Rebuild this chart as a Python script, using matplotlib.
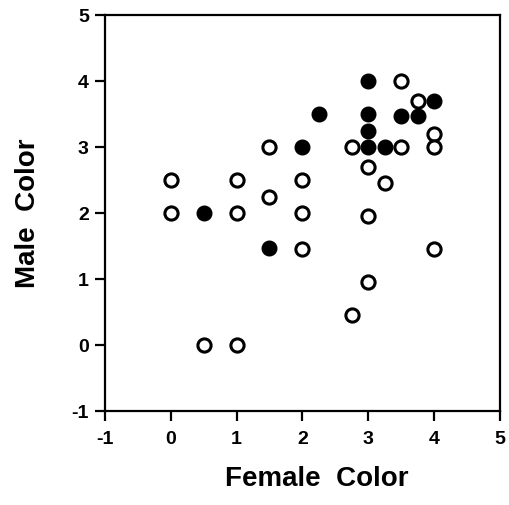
import matplotlib
matplotlib.use("Agg")
import matplotlib.pyplot as plt

# open circles
open_x = [0, 0, 1, 1, 1.5, 1.5, 2, 2, 2, 2.75, 2.75, 3, 3, 3, 3.25,
          3.5, 3.5, 3.75, 4, 4, 4, 0.5, 1]
open_y = [2.5, 2, 2.5, 2, 3, 2.25, 2.5, 2, 1.45, 3, 0.45, 2.7, 1.95, 0.95, 2.45,
          4, 3, 3.7, 3.2, 3, 1.45, 0, 0]

# filled circles
filled_x = [0.5, 1.5, 2, 2.25, 3, 3, 3, 3, 3.25, 3.5, 3.75, 4]
filled_y = [2, 1.47, 3, 3.5, 4, 3.5, 3.25, 3, 3, 3.47, 3.47, 3.7]

ticks = [-1, 0, 1, 2, 3, 4, 5]

plt.rcParams["font.family"] = ["Liberation Sans", "DejaVu Sans"]
plt.rcParams["font.weight"] = "bold"
plt.rcParams["axes.unicode_minus"] = False

fig = plt.figure(figsize=(5.09, 5.05), dpi=100)
ax = fig.add_axes([0.206, 0.186, 0.776, 0.784])

ax.plot(open_x, open_y, "o", markersize=9.5, markerfacecolor="white",
        markeredgecolor="black", markeredgewidth=2.2, linestyle="none")
ax.plot(filled_x, filled_y, "o", markersize=10.5, color="black",
        linestyle="none")

ax.set_xlim(-1, 5)
ax.set_ylim(-1, 5)
ax.set_xticks(ticks)
ax.set_yticks(ticks)
ax.tick_params(direction="out", length=7.5, width=1.6, labelsize=14, pad=4)
ax.tick_params(axis="x", pad=7)
for lab in ax.get_xticklabels() + ax.get_yticklabels():
    lab.set_fontweight("bold")
for sp in ax.spines.values():
    sp.set_linewidth(1.6)

ax.set_xlabel("Female  Color", fontsize=20, fontweight="bold", labelpad=13)
ax.xaxis.label.set_x(0.537)
ax.set_ylabel("Male  Color", fontsize=20, fontweight="bold", labelpad=22)

fig.savefig("out.png", dpi=100)
